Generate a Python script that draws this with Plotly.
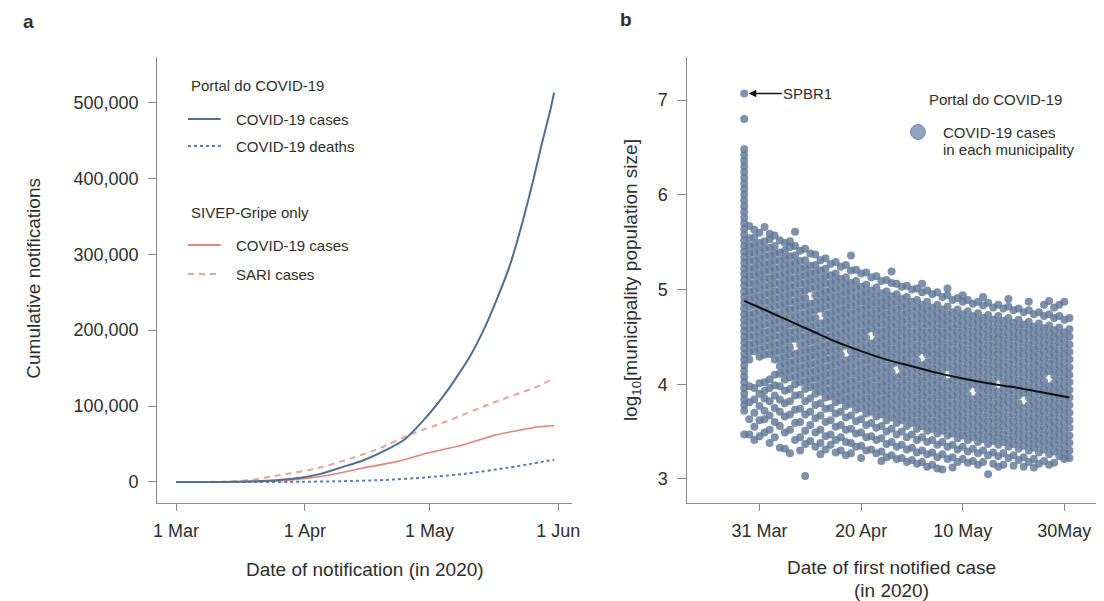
import plotly.graph_objects as go
from datetime import datetime, timedelta

# ---------------- Panel a data ----------------
portal_cases_dates = ['2020-03-01', '2020-03-10', '2020-03-15', '2020-03-20', '2020-03-25', '2020-03-31',
                      '2020-04-05', '2020-04-10', '2020-04-15', '2020-04-20', '2020-04-25', '2020-04-30',
                      '2020-05-05', '2020-05-08', '2020-05-11', '2020-05-14', '2020-05-17', '2020-05-20',
                      '2020-05-22', '2020-05-24', '2020-05-26', '2020-05-28', '2020-05-30', '2020-05-31']
portal_cases = [0, 30, 200, 900, 2400, 5700, 11000, 19600, 28300, 40600, 56000, 84000,
                118000, 142000, 168000, 200000, 238000, 280000, 315000, 355000, 398000, 445000, 488000, 513000]

portal_deaths_dates = ['2020-03-01', '2020-03-20', '2020-03-31', '2020-04-10', '2020-04-20', '2020-04-30',
                       '2020-05-10', '2020-05-20', '2020-05-25', '2020-05-31']
portal_deaths = [0, 0, 200, 1050, 2600, 5900, 11100, 18900, 23500, 29300]

sivep_covid_dates = ['2020-03-01', '2020-03-15', '2020-03-20', '2020-03-25', '2020-03-31', '2020-04-07',
                     '2020-04-15', '2020-04-23', '2020-05-01', '2020-05-09', '2020-05-17', '2020-05-22',
                     '2020-05-27', '2020-05-31']
sivep_covid = [0, 0, 200, 1200, 4000, 9200, 18400, 26800, 38700, 48800, 62000, 67500, 72500, 74000]

sari_dates = ['2020-03-01', '2020-03-08', '2020-03-12', '2020-03-15', '2020-03-19', '2020-03-26',
              '2020-04-03', '2020-04-11', '2020-04-19', '2020-04-27', '2020-05-05', '2020-05-16',
              '2020-05-27', '2020-05-31']
sari_cases = [0, 0, 400, 1000, 2600, 9200, 16800, 29000, 44400, 64000, 79600, 103800, 125700, 137000]

a_tick_dates = ['2020-03-01', '2020-04-01', '2020-05-01', '2020-06-01']
a_tick_labels = ['1 Mar', '1 Apr', '1 May', '1 Jun']
a_y_ticks = [0, 100000, 200000, 300000, 400000, 500000]
a_y_labels = ['0', '100,000', '200,000', '300,000', '400,000', '500,000']

# ---------------- Panel b data ----------------
# log10(population) x 100, one list per day starting at scatter_first_date
scatter_first_date = '2020-03-28'
logpop_x100_28mar_05apr = [
    [707, 680, 648, 642, 636, 630, 624, 618, 612, 606, 600, 594, 588, 582, 576, 570, 564, 558, 552, 546, 540, 534,
     528, 522, 516, 510, 504, 498, 492, 486, 480, 474, 468, 462, 456, 450, 444, 438, 432, 426, 420, 414, 408, 402,
     396, 390, 384, 378, 372, 347],
    [567, 554, 546, 538, 530, 522, 514, 506, 498, 490, 482, 474, 466, 458, 450, 442, 434, 426, 398, 381, 363, 347],
    [563, 555, 547, 539, 531, 523, 515, 507, 499, 491, 483, 475, 467, 459, 451, 443, 435, 396, 384, 370, 355, 341],
    [560, 549, 541, 533, 525, 517, 509, 501, 493, 485, 477, 469, 461, 453, 445, 437, 429, 401, 390, 377, 362, 345],
    [566, 551, 543, 535, 527, 519, 511, 503, 495, 487, 479, 471, 463, 455, 447, 439, 431, 402, 393, 385, 372, 363, 349],
    [559, 553, 544, 536, 528, 520, 512, 504, 496, 488, 480, 472, 464, 456, 448, 440, 432, 405, 396, 382, 367, 352, 338],
    [557, 546, 538, 530, 522, 514, 506, 498, 490, 482, 474, 466, 458, 450, 442, 434, 426, 410, 399, 388, 375, 360, 344],
    [552, 539, 531, 523, 515, 507, 499, 491, 483, 475, 467, 459, 451, 443, 435, 427, 419, 411, 398, 384, 371, 356, 333],
    [549, 541, 533, 525, 517, 509, 501, 493, 485, 477, 469, 461, 453, 445, 437, 429, 421, 413, 405, 393, 380, 366, 349, 332],
]
logpop_x100_06apr_15apr = [
    [551, 545, 535, 527, 519, 511, 503, 495, 487, 479, 471, 463, 455, 447, 439, 431, 423, 415, 407, 395, 382, 368, 352, 327],
    [561, 546, 536, 528, 520, 512, 504, 496, 488, 480, 472, 464, 456, 448, 432, 424, 416, 408, 400, 388, 373, 359, 341],
    [541, 530, 522, 514, 506, 498, 490, 482, 474, 466, 458, 450, 442, 434, 426, 418, 410, 402, 389, 374, 360, 344, 330],
    [543, 531, 523, 515, 507, 499, 491, 483, 475, 467, 459, 451, 443, 435, 427, 419, 411, 403, 395, 382, 368, 351, 337, 303],
    [538, 525, 517, 509, 501, 485, 477, 469, 461, 453, 445, 437, 429, 421, 413, 405, 397, 385, 371, 357, 340],
    [537, 526, 518, 510, 502, 494, 486, 478, 470, 462, 454, 446, 438, 430, 422, 414, 406, 398, 390, 378, 364, 349, 334],
    [531, 520, 512, 504, 496, 488, 480, 464, 456, 448, 440, 432, 424, 416, 408, 400, 392, 380, 367, 352, 338, 326],
    [533, 522, 514, 506, 498, 490, 482, 474, 466, 458, 450, 442, 434, 426, 418, 410, 402, 394, 386, 374, 360, 345, 331],
    [527, 515, 507, 499, 491, 483, 475, 467, 459, 451, 443, 435, 427, 419, 411, 403, 395, 387, 375, 362, 347, 336],
    [529, 517, 509, 501, 493, 485, 477, 469, 461, 453, 445, 437, 429, 421, 413, 405, 397, 389, 381, 369, 355, 341, 328],
]
logpop_x100_16apr_25apr = [
    [524, 511, 503, 495, 487, 479, 471, 463, 455, 447, 439, 431, 423, 415, 407, 399, 391, 383, 371, 357, 344, 330],
    [526, 513, 505, 497, 489, 481, 473, 465, 457, 449, 441, 425, 417, 409, 401, 393, 385, 377, 365, 352, 339, 325],
    [536, 520, 507, 499, 491, 483, 475, 467, 459, 451, 443, 435, 427, 419, 411, 403, 395, 387, 379, 367, 353, 338, 327],
    [521, 509, 501, 493, 485, 477, 469, 461, 453, 445, 437, 429, 421, 413, 405, 397, 389, 381, 373, 361, 348, 334],
    [517, 503, 495, 487, 479, 471, 463, 455, 447, 439, 431, 423, 415, 407, 399, 391, 383, 375, 363, 349, 335, 322],
    [518, 505, 497, 489, 481, 473, 465, 457, 449, 441, 433, 425, 417, 409, 401, 393, 385, 377, 369, 357, 344, 330],
    [513, 499, 491, 483, 475, 467, 459, 443, 435, 427, 419, 411, 403, 395, 387, 379, 371, 359, 345, 331],
    [514, 502, 494, 486, 478, 470, 462, 454, 446, 438, 430, 422, 414, 406, 398, 390, 382, 374, 366, 354, 341, 327],
    [509, 496, 488, 480, 472, 464, 456, 448, 440, 432, 424, 416, 408, 400, 392, 384, 376, 368, 356, 343, 329, 319],
    [510, 498, 490, 482, 474, 466, 458, 450, 442, 434, 426, 418, 410, 402, 394, 386, 378, 370, 362, 350, 337, 323],
]
logpop_x100_26apr_05may = [
    [519, 507, 493, 485, 477, 469, 461, 453, 445, 437, 429, 421, 413, 405, 397, 389, 381, 373, 365, 353, 339, 325],
    [506, 495, 487, 479, 471, 463, 455, 447, 439, 431, 423, 407, 399, 391, 383, 375, 367, 359, 347, 334, 321],
    [503, 490, 482, 474, 466, 458, 450, 442, 434, 426, 418, 410, 402, 394, 386, 378, 370, 362, 350, 336, 322],
    [504, 492, 484, 476, 468, 460, 452, 444, 436, 428, 420, 412, 404, 396, 388, 380, 372, 364, 356, 344, 331, 318],
    [500, 487, 479, 471, 463, 455, 447, 439, 431, 423, 415, 407, 399, 391, 383, 375, 367, 359, 347, 333, 320],
    [501, 489, 481, 473, 465, 457, 449, 441, 433, 425, 417, 409, 401, 393, 385, 377, 369, 361, 353, 341, 328, 316],
    [506, 497, 484, 476, 468, 460, 452, 444, 436, 420, 412, 404, 396, 388, 380, 372, 364, 356, 344, 330, 318],
    [499, 487, 479, 471, 463, 455, 447, 439, 431, 423, 415, 407, 399, 391, 383, 375, 367, 359, 351, 339, 326, 313],
    [495, 481, 473, 465, 457, 449, 441, 433, 425, 417, 409, 401, 393, 385, 377, 369, 361, 353, 341, 328, 315],
    [497, 484, 476, 468, 460, 452, 444, 436, 428, 420, 412, 404, 396, 388, 380, 372, 364, 356, 348, 336, 323, 311],
]
logpop_x100_06may_15may = [
    [492, 479, 471, 463, 455, 447, 439, 431, 423, 415, 407, 399, 391, 383, 375, 367, 359, 351, 339, 326, 310],
    [501, 494, 482, 474, 466, 458, 450, 442, 434, 426, 418, 402, 394, 386, 378, 370, 362, 354, 346, 334, 321],
    [489, 476, 468, 460, 452, 444, 436, 428, 420, 412, 404, 396, 388, 380, 372, 364, 356, 348, 336, 323, 312],
    [491, 479, 471, 463, 455, 447, 439, 431, 423, 415, 407, 399, 391, 383, 375, 367, 359, 351, 343, 331, 318],
    [494, 487, 474, 466, 458, 450, 442, 434, 426, 418, 410, 402, 394, 386, 378, 370, 362, 354, 346, 334, 321],
    [489, 477, 469, 461, 453, 445, 437, 429, 421, 413, 405, 397, 389, 381, 373, 365, 357, 349, 341, 329, 317],
    [485, 472, 464, 456, 448, 440, 432, 424, 416, 408, 400, 384, 376, 368, 360, 352, 344, 332, 319],
    [487, 475, 467, 459, 451, 443, 435, 427, 419, 411, 403, 395, 387, 379, 371, 363, 355, 347, 339, 327, 315],
    [492, 483, 470, 462, 454, 446, 438, 430, 422, 414, 406, 398, 390, 382, 374, 366, 358, 350, 342, 330, 318],
    [486, 473, 465, 457, 449, 441, 433, 425, 417, 409, 401, 393, 385, 377, 369, 361, 353, 345, 337, 325, 305],
]
logpop_x100_16may_25may = [
    [481, 468, 460, 452, 444, 436, 428, 420, 412, 404, 396, 388, 380, 372, 364, 356, 348, 340, 328, 316],
    [484, 472, 464, 456, 448, 440, 432, 424, 416, 408, 392, 384, 376, 368, 360, 352, 344, 336, 324, 313],
    [480, 467, 459, 451, 443, 435, 427, 419, 411, 403, 395, 387, 379, 371, 363, 355, 347, 339, 327, 315],
    [490, 482, 470, 462, 454, 446, 438, 430, 422, 414, 406, 398, 390, 382, 374, 366, 358, 350, 342, 334, 322],
    [478, 465, 457, 449, 441, 433, 425, 417, 409, 401, 393, 385, 377, 369, 361, 353, 345, 337, 325, 314],
    [480, 468, 460, 452, 444, 436, 428, 420, 412, 404, 396, 388, 380, 372, 364, 356, 348, 340, 332, 320],
    [476, 463, 455, 447, 439, 431, 423, 415, 407, 399, 391, 375, 367, 359, 351, 343, 335, 323, 313],
    [487, 478, 466, 458, 450, 442, 434, 426, 418, 410, 402, 394, 386, 378, 370, 362, 354, 346, 338, 330, 318],
    [474, 461, 453, 445, 437, 429, 421, 413, 405, 397, 389, 381, 373, 365, 357, 349, 341, 333, 321, 312],
    [476, 464, 456, 448, 440, 432, 424, 416, 408, 400, 392, 384, 376, 368, 360, 352, 344, 336, 328, 316],
]
logpop_x100_26may_31may = [
    [484, 472, 459, 451, 443, 435, 427, 419, 411, 403, 395, 387, 379, 371, 363, 355, 347, 339, 331, 319],
    [488, 474, 462, 454, 446, 438, 430, 422, 414, 398, 390, 382, 374, 366, 358, 350, 342, 334, 326, 315],
    [481, 470, 457, 449, 441, 433, 425, 417, 409, 401, 393, 385, 377, 369, 361, 353, 345, 337, 329, 317],
    [484, 472, 460, 452, 444, 436, 428, 420, 412, 404, 396, 388, 380, 372, 364, 356, 348, 340, 332, 324],
    [487, 468, 455, 447, 439, 431, 423, 415, 407, 399, 391, 383, 375, 367, 359, 351, 343, 335, 327, 321],
    [470, 458, 450, 442, 434, 426, 418, 410, 402, 394, 386, 378, 370, 362, 354, 346, 338, 330, 322],
]

trend_dates = ['2020-03-28', '2020-03-31', '2020-04-05', '2020-04-10', '2020-04-15', '2020-04-20', '2020-04-25',
               '2020-04-30', '2020-05-05', '2020-05-10', '2020-05-15', '2020-05-20', '2020-05-25', '2020-05-31']
trend_values = [4.88, 4.81, 4.69, 4.57, 4.45, 4.35, 4.26, 4.19, 4.12, 4.06, 4.01, 3.97, 3.92, 3.86]

spbr1_date = '2020-03-28'
spbr1_value = 7.07

b_tick_dates = ['2020-03-31', '2020-04-20', '2020-05-10', '2020-05-30']
b_tick_labels = ['31 Mar', '20 Apr', '10 May', '30May']
b_y_ticks = [3, 4, 5, 6, 7]

# ---------------- Styling ----------------
W, H = 1104, 601
FONT = 'Liberation Sans, Arial, Helvetica, sans-serif'
TXT = '#2e2e2e'
AXC = '#8a8a8a'
BLUE = '#4f6e90'
BLUE_DOT = '#5a7ea6'
RED = '#e3857b'
SARI = '#eaa496'
PT = 'rgba(92,118,150,0.8)'


def px(xp):
    return xp / W


def py(yp):
    return 1 - yp / H


# build scatter arrays
day_lists = (logpop_x100_28mar_05apr + logpop_x100_06apr_15apr + logpop_x100_16apr_25apr +
             logpop_x100_26apr_05may + logpop_x100_06may_15may + logpop_x100_16may_25may +
             logpop_x100_26may_31may)
start = datetime.strptime(scatter_first_date, '%Y-%m-%d')
sx, sy = [], []
for i, vals in enumerate(day_lists):
    d = (start + timedelta(days=i)).strftime('%Y-%m-%d')
    for v in vals:
        sx.append(d)
        sy.append(v / 100.0)

fig = go.Figure()

# Panel a traces
fig.add_trace(go.Scatter(x=sari_dates, y=sari_cases, mode='lines', name='SARI cases',
                         line=dict(color=SARI, width=2, dash='6px,5px', shape='spline', smoothing=0.6),
                         xaxis='x', yaxis='y'))
fig.add_trace(go.Scatter(x=sivep_covid_dates, y=sivep_covid, mode='lines', name='COVID-19 cases (SIVEP-Gripe)',
                         line=dict(color=RED, width=1.6, shape='spline', smoothing=0.6),
                         xaxis='x', yaxis='y'))
fig.add_trace(go.Scatter(x=portal_deaths_dates, y=portal_deaths, mode='lines', name='COVID-19 deaths',
                         line=dict(color=BLUE_DOT, width=2, dash='dot', shape='spline', smoothing=0.6),
                         xaxis='x', yaxis='y'))
fig.add_trace(go.Scatter(x=portal_cases_dates, y=portal_cases, mode='lines', name='COVID-19 cases (Portal)',
                         line=dict(color=BLUE, width=2, shape='spline', smoothing=0.5),
                         xaxis='x', yaxis='y'))

# Panel b traces
fig.add_trace(go.Scatter(x=sx, y=sy, mode='markers', name='COVID-19 cases in each municipality',
                         marker=dict(size=8, color=PT, line=dict(width=0)),
                         xaxis='x2', yaxis='y2'))
fig.add_trace(go.Scatter(x=trend_dates, y=trend_values, mode='lines', name='trend',
                         line=dict(color='#111111', width=2, shape='spline', smoothing=0.8),
                         xaxis='x2', yaxis='y2'))

axis_common = dict(showline=True, linecolor=AXC, linewidth=1.2, ticks='outside', tickcolor=AXC,
                   tickwidth=1.2, showgrid=False, zeroline=False,
                   tickfont=dict(family=FONT, size=18, color=TXT))

ydom = [py(503), py(57)]

fig.update_layout(
    width=W, height=H, margin=dict(l=0, r=0, t=0, b=0),
    paper_bgcolor='white', plot_bgcolor='white', showlegend=False,
    font=dict(family=FONT, color=TXT),
    xaxis=dict(domain=[px(155), px(574)], anchor='y', type='date',
               range=['2020-02-25 11:30', '2020-06-04 05:45'],
               tickvals=a_tick_dates, ticktext=a_tick_labels, ticklen=7, ticklabelstandoff=4, **axis_common),
    yaxis=dict(domain=ydom, anchor='x', range=[-27700, 559800],
               tickvals=a_y_ticks, ticktext=a_y_labels, ticklen=8, ticklabelstandoff=6, **axis_common),
    xaxis2=dict(domain=[px(691), 1.0], anchor='y2', type='date',
                range=['2020-03-16 20:00', '2020-06-05 05:30'],
                tickvals=b_tick_dates, ticktext=b_tick_labels, ticklen=7, ticklabelstandoff=4, **axis_common),
    yaxis2=dict(domain=ydom, anchor='x2', range=[2.746, 7.455],
                tickvals=b_y_ticks, ticklen=9, ticklabelstandoff=6, **axis_common),
)

ann = []


def text(x, y, s, size=15, xanchor='left', angle=0, bold=False):
    ann.append(dict(x=x, y=y, xref='paper', yref='paper', text=('<b>%s</b>' % s) if bold else s,
                    showarrow=False, xanchor=xanchor, yanchor='middle', textangle=angle,
                    font=dict(family=FONT, size=size, color=TXT)))


# panel labels
text(px(25), py(22), 'a', size=19, xanchor='center', bold=True)
text(px(629), py(20), 'b', size=19, xanchor='center', bold=True)

# axis titles
text(px(29), py(278), 'Cumulative notifications', size=19, xanchor='center', angle=-90)
text(px(365), py(569), 'Date of notification (in 2020)', size=19, xanchor='center')
text(px(635), py(280), 'log<sub>10</sub>[municipality population size]', size=19, xanchor='center', angle=-90)
text(px(897), py(567), 'Date of first notified case', size=19, xanchor='center')
text(px(897), py(590), '(in 2020)', size=19, xanchor='center')

# panel a legend
text(px(187), py(86), 'Portal do COVID-19')
text(px(233), py(119), 'COVID-19 cases')
text(px(233), py(146), 'COVID-19 deaths')
text(px(187), py(212), 'SIVEP-Gripe only')
text(px(233), py(245), 'COVID-19 cases')
text(px(233), py(274), 'SARI cases')

# panel b legend
text(px(933), py(100), 'Portal do COVID-19')
text(px(947), py(132), 'COVID-19 cases')
text(px(947), py(149), 'in each municipality')

# SPBR1 arrow
ann.append(dict(x='2020-03-28 21:30', y=spbr1_value, xref='x2', yref='y2', text='SPBR1',
                showarrow=True, arrowhead=2, arrowsize=1, arrowwidth=1.5, arrowcolor='#111111',
                ax=59, ay=0, font=dict(family=FONT, size=15, color=TXT)))

fig.update_layout(annotations=ann)

shapes = [
    dict(type='line', xref='paper', yref='paper', x0=px(186), x1=px(219), y0=py(119), y1=py(119),
         line=dict(color=BLUE, width=2)),
    dict(type='line', xref='paper', yref='paper', x0=px(186), x1=px(219), y0=py(146), y1=py(146),
         line=dict(color=BLUE_DOT, width=2, dash='dot')),
    dict(type='line', xref='paper', yref='paper', x0=px(186), x1=px(219), y0=py(245), y1=py(245),
         line=dict(color=RED, width=2)),
    dict(type='line', xref='paper', yref='paper', x0=px(186), x1=px(219), y0=py(274), y1=py(274),
         line=dict(color=SARI, width=2, dash='6px,5px')),
    dict(type='circle', xref='paper', yref='paper', x0=px(916.5), x1=px(931.5), y0=py(139.5), y1=py(124.5),
         fillcolor='#8ea3be', line=dict(color='#6d86a4', width=1)),
]
fig.update_layout(shapes=shapes)

fig.write_html('out.html')
